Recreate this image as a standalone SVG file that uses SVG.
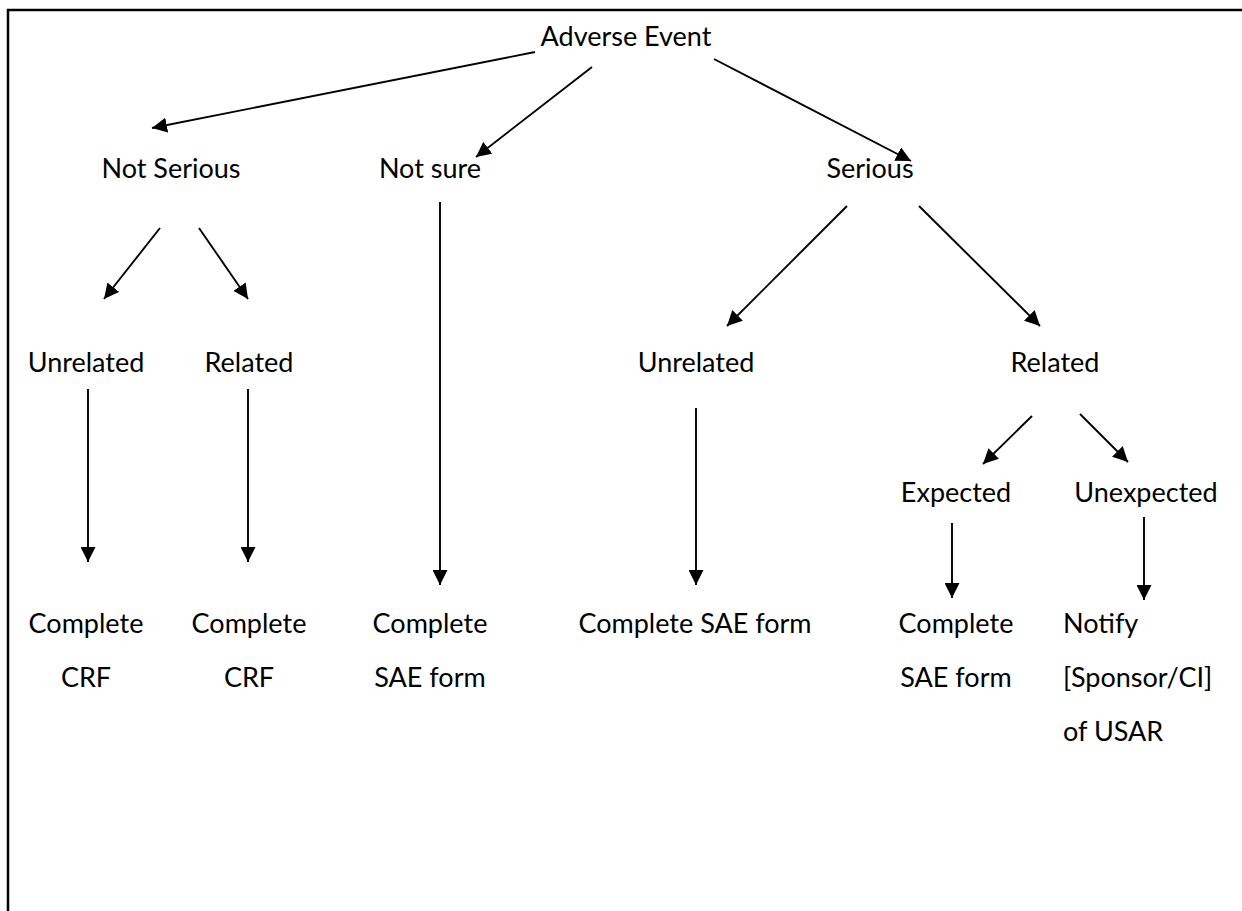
<svg xmlns="http://www.w3.org/2000/svg" width="1242" height="911" viewBox="0 0 1242 911">
<style>
  text { font-family: Lato, "Open Sans", sans-serif; font-size: 27px; fill: #000; }
  .c { text-anchor: middle; }
  .conn line { stroke: #000; stroke-width: 1.9; marker-end: url(#ah); }
  .frame { stroke: #000; stroke-width: 2.5; fill: none; }
</style>
<defs>
  <marker id="ah" markerUnits="userSpaceOnUse" markerWidth="16" markerHeight="15" refX="15" refY="7.5" orient="auto">
    <path d="M0,0 L15,7.5 L0,15 z" fill="#000"/>
  </marker>
</defs>
<rect width="1242" height="911" fill="#fff"/>
<path class="frame" d="M8,911 L8,10 L1242,10"/>

<g id="n-adverse"><text class="c" x="626" y="46">Adverse Event</text></g>
<g id="n-notserious"><text class="c" x="171" y="178">Not Serious</text></g>
<g id="n-notsure"><text class="c" x="430" y="178">Not sure</text></g>
<g id="n-serious"><text class="c" x="870" y="178">Serious</text></g>
<g id="n-unrelated1"><text class="c" x="86" y="372">Unrelated</text></g>
<g id="n-related1"><text class="c" x="249" y="372">Related</text></g>
<g id="n-unrelated2"><text class="c" x="696" y="372">Unrelated</text></g>
<g id="n-related2"><text class="c" x="1055" y="372">Related</text></g>
<g id="n-expected"><text class="c" x="956" y="502">Expected</text></g>
<g id="n-unexpected"><text class="c" x="1146" y="502">Unexpected</text></g>
<g id="n-crf1"><text class="c" x="86" y="633">Complete</text><text class="c" x="86" y="687">CRF</text></g>
<g id="n-crf2"><text class="c" x="249" y="633">Complete</text><text class="c" x="249" y="687">CRF</text></g>
<g id="n-sae1"><text class="c" x="430" y="633">Complete</text><text class="c" x="430" y="687">SAE form</text></g>
<g id="n-sae2"><text class="c" x="695" y="633">Complete SAE form</text></g>
<g id="n-sae3"><text class="c" x="956" y="633">Complete</text><text class="c" x="956" y="687">SAE form</text></g>
<g id="n-notify"><text x="1063" y="633">Notify</text><text x="1063" y="687">[Sponsor/CI]</text><text x="1063" y="741">of USAR</text></g>

<g id="connectors" class="conn">
  <line x1="535" y1="52" x2="152" y2="128"/>
  <line x1="592" y1="67" x2="476" y2="157"/>
  <line x1="714" y1="59" x2="911" y2="161"/>
  <line x1="160" y1="228" x2="104" y2="299"/>
  <line x1="199" y1="228" x2="248" y2="299"/>
  <line x1="440" y1="202" x2="440" y2="585"/>
  <line x1="847" y1="206" x2="727" y2="326"/>
  <line x1="919" y1="206" x2="1040" y2="326"/>
  <line x1="88" y1="389" x2="88" y2="562"/>
  <line x1="248" y1="389" x2="248" y2="562"/>
  <line x1="696" y1="408" x2="696" y2="585"/>
  <line x1="1032" y1="416" x2="983" y2="464"/>
  <line x1="1080" y1="414" x2="1128" y2="462"/>
  <line x1="952" y1="523" x2="952" y2="598"/>
  <line x1="1144" y1="517" x2="1144" y2="600"/>
</g>
</svg>
